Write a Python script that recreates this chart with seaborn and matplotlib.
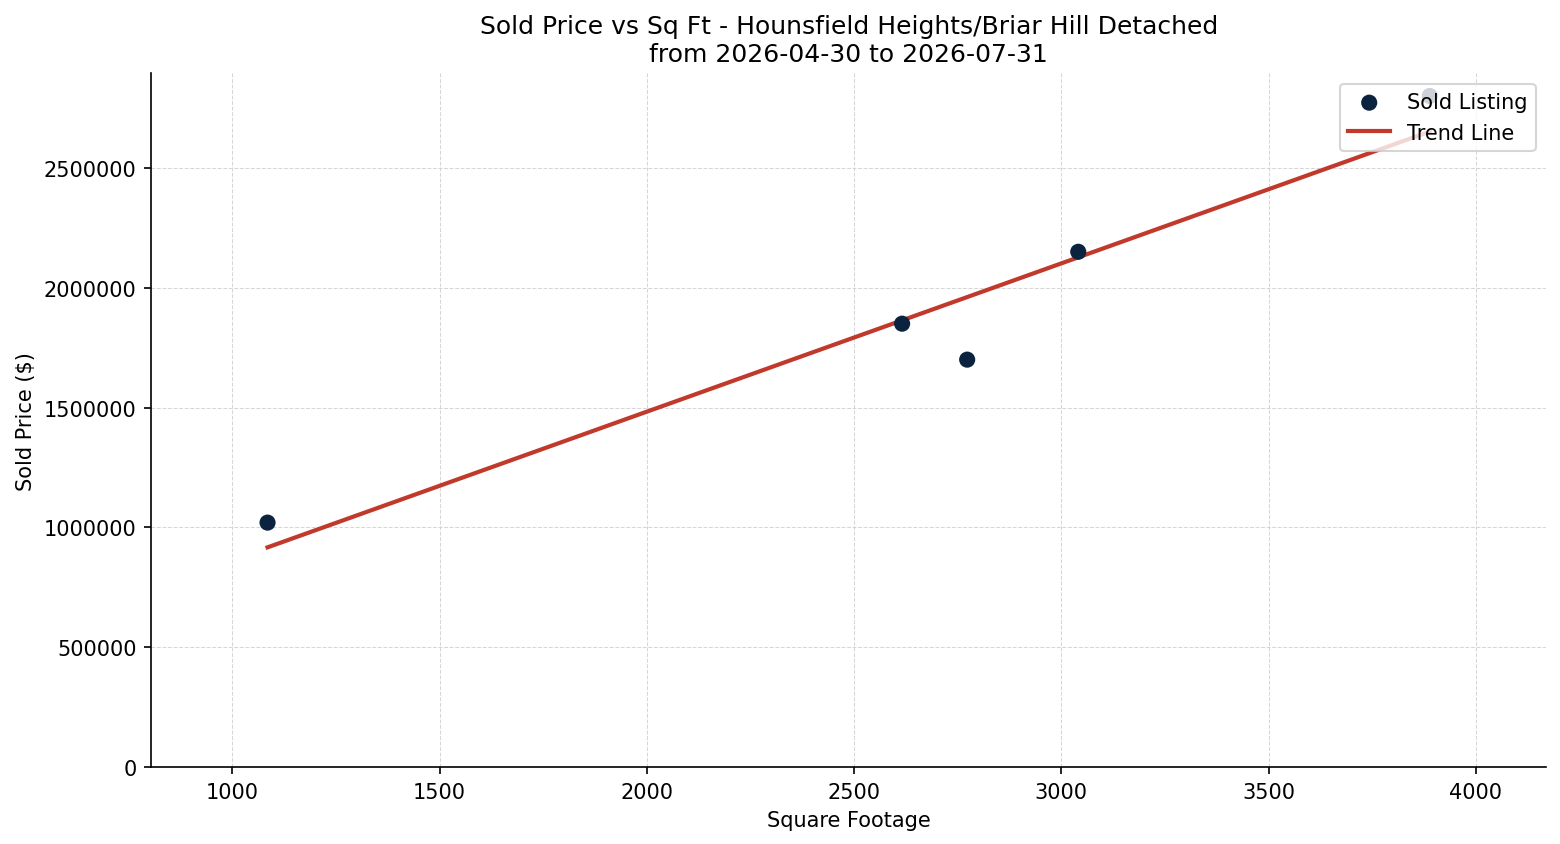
import numpy as np
import pandas as pd
import matplotlib
matplotlib.use("Agg")
import matplotlib.pyplot as plt
import seaborn as sns

# sold listings
sqft = [1085, 2616, 2773, 3041, 3889]
price = [1020000, 1850000, 1700000, 2150000, 2800000]

community = "Hounsfield Heights/Briar Hill"
prop_type = "Detached"
start_date = "2026-04-30"
end_date = "2026-07-31"

data = pd.DataFrame({"sqft": sqft, "price": price})

# least squares trend through the listings
slope, intercept = np.polyfit(data["sqft"], data["price"], 1)
trend = pd.DataFrame({"sqft": sorted(sqft)})
trend["price"] = slope * trend["sqft"] + intercept

fig, ax = plt.subplots(figsize=(10.4, 5.633), dpi=150)

sns.scatterplot(x="sqft", y="price", data=data, color="#0c2340", s=60,
                edgecolor="none", label="Sold Listing", ax=ax, zorder=3)
sns.lineplot(x="sqft", y="price", data=trend, color="#c0392b", linewidth=2,
             label="Trend Line", ax=ax, zorder=2)

ax.set_title(f"Sold Price vs Sq Ft - {community} {prop_type}\nfrom {start_date} to {end_date}",
             fontsize=12)
ax.set_xlabel("Square Footage")
ax.set_ylabel("Sold Price ($)")

span = max(sqft) - min(sqft)
ax.set_xlim(min(sqft) - 0.1 * span, max(sqft) + 0.1 * span)
ax.set_ylim(bottom=0)
ax.ticklabel_format(style="plain", axis="y")

ax.grid(True, linestyle="--", linewidth=0.5, color="#cccccc", alpha=0.8)
ax.set_axisbelow(True)
sns.despine(ax=ax)
ax.legend(loc="upper right")

plt.subplots_adjust(left=0.097, right=0.991, bottom=0.091, top=0.912)
plt.savefig("out.png", dpi=150)
